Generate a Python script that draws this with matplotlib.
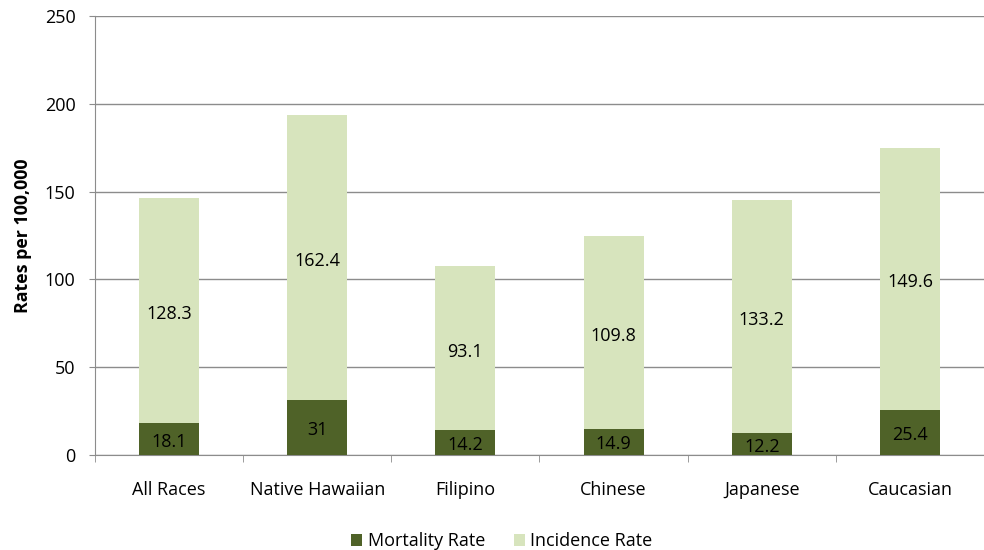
import matplotlib
matplotlib.use("Agg")
import matplotlib.pyplot as plt
import numpy as np

plt.rcParams['font.family'] = ['Open Sans', 'DejaVu Sans']

# data
groups = ['All Races', 'Native Hawaiian', 'Filipino', 'Chinese', 'Japanese', 'Caucasian']
mortality = [18.1, 31, 14.2, 14.9, 12.2, 25.4]
incidence = [128.3, 162.4, 93.1, 109.8, 133.2, 149.6]

dark = '#4f6228'
light = '#d7e4bd'
grid_col = '#8c8c8c'

fig = plt.figure(figsize=(9.84, 5.5), dpi=100)
ax = fig.add_axes([0.0965, 0.173, 0.9035, 0.798])

x = np.arange(len(groups))
w = 0.405
b1 = ax.bar(x, mortality, w, color=dark, label='Mortality Rate', zorder=3)
b2 = ax.bar(x, incidence, w, bottom=mortality, color=light, label='Incidence Rate', zorder=3)

for i in range(len(groups)):
    ax.text(x[i], mortality[i] / 2 - 1.5, f'{mortality[i]:g}', ha='center', va='center', fontsize=13, zorder=4)
    ax.text(x[i], mortality[i] + incidence[i] / 2 - 2, f'{incidence[i]:g}', ha='center', va='center', fontsize=13, zorder=4)

ax.set_xlim(-0.5, len(groups) - 0.5)
ax.set_ylim(0, 250)
ax.set_yticks(range(0, 251, 50))
ax.yaxis.grid(True, color=grid_col, linewidth=1, zorder=0)
ax.tick_params(axis='y', length=4, color=grid_col, labelsize=13, pad=10)

# ticks between categories, labels centred under bars
ax.set_xticks(x)
ax.set_xticklabels(groups, fontsize=13)
ax.tick_params(axis='x', length=0, pad=19)
ax.set_xticks(np.arange(-0.5, len(groups), 1), minor=True)
ax.tick_params(axis='x', which='minor', length=5, color=grid_col)

for s in ['top', 'right']:
    ax.spines[s].set_visible(False)
ax.spines['left'].set_color(grid_col)
ax.spines['bottom'].set_color(grid_col)

ax.set_ylabel('Rates per 100,000', fontsize=12.8, fontweight='bold', labelpad=9)

fig.legend(handles=[b1, b2], loc='lower center', bbox_to_anchor=(0.51, -0.03), ncol=2, frameon=False,
           fontsize=13, handlelength=0.6, handleheight=0.6, columnspacing=1.6, handletextpad=0.3)

fig.savefig('out.png', dpi=100)
